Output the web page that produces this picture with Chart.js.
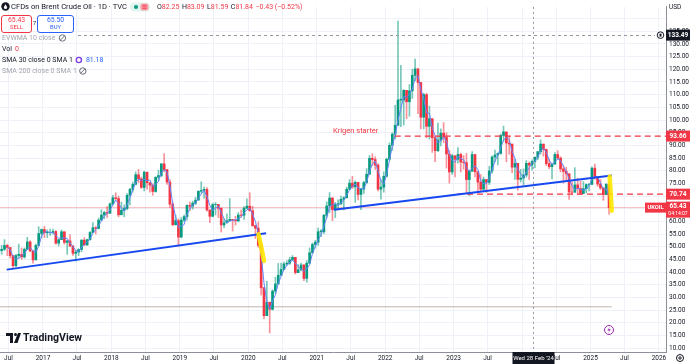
<!DOCTYPE html>
<html>
<head>
<meta charset="utf-8">
<script src="https://cdn.jsdelivr.net/npm/chart.js@4.4.1/dist/chart.umd.min.js"></script>
<style>
  html, body { margin: 0; padding: 0; background: #fff; }
  #wrap { width: 690px; height: 364px; }
</style>
</head>
<body>
<div id="wrap"><canvas id="chart" width="690" height="364"></canvas></div>
<script>
// half-month candles, first one = second half of May 2016
const firstPeriod = 2016.375;
const periodLen = 1 / 24;
const firstOpen = 48.5;

const closes = [
  49, 50.5, 49.7, 46.5, 42.5, 46.5, 47, 46, 49, 51.9, 48.3, 44.8, 50.5, 55.2, 56.8,
  55.5, 55.5, 55.6, 56, 51.4, 52.8, 55.9, 51.7, 52.3, 50.3, 47.4, 47.9, 48.9, 52.6, 50.7, 52.8, 55.6, 57.5, 57.2, 60.5, 62.5, 63.5, 63.2, 66.9,
  69.3, 69, 62.6, 64.4, 65.1, 70.3, 72.6, 74.6, 78.4, 76.8, 73.4, 79.4, 75.3, 74.3, 71.8, 77.4, 78.1, 82.7, 80.4, 75.5, 66.8, 58.7, 60.3, 53.8,
  60.5, 61.9, 66.3, 66, 67.2, 68.4, 71.9, 72.2, 72.6, 64.5, 62, 66.6, 66.7, 65.2, 58.6, 59.4, 60.2, 60.8, 60.5, 60.2, 62.5, 62.4, 65.2, 66,
  64.2, 58.3, 57.3, 50.5, 33.8, 22.8, 28.1, 25.3, 32.5, 35.3, 38.7, 41, 43.2, 43.5, 44.8, 45.8, 39.8, 40.9, 42.8, 37.5, 43.5, 47.6, 50.9, 51.8,
  55.9, 55.9, 62.4, 66.1, 69.2, 64.6, 66.8, 67, 68.7, 69.3, 72.7, 75.1, 73.6, 75.4, 70.6, 72.7, 75.3, 78.6, 84.9, 84.4, 82.2, 72.7, 73.5, 77.8,
  84.5, 90, 94.4, 97.9, 107.9, 107.9, 111.7, 107.2, 111.5, 117.6, 120.2, 114.8, 101.1, 110, 97.5, 100.5, 93, 87.9, 92.1, 94.8, 93.1, 86.6, 79.5, 85.9,
  84.5, 86.4, 83.4, 83.2, 76.5, 79.8, 86.4, 79.6, 75.5, 72.7, 76.5, 75.4, 79.9, 85.4, 86.2, 86.8, 93.9, 95.3, 90.9, 90.5, 81.4, 82.9, 76.6, 77.1,
  78.3, 82.9, 82.2, 83.6, 85.3, 87.5, 90.5, 88.4, 82.8, 81.6, 82.6, 86.4, 85, 80.7, 79.7, 78.8, 71.6, 71.5, 74.4, 73, 71, 72.9, 74.5, 74.6,
  81, 77.4, 74.7, 73.2, 70.6, 74.7, 65.4
];
const highs = [
  50.5, 52.8, 51, 49, 46, 47, 51, 49.5, 49.5, 53.7, 52.3, 48.5, 51, 57.9, 57,
  58, 56.6, 57, 57, 56.4, 53, 56.6, 55.8, 52.5, 54.7, 50.5, 48.5, 49.2, 52.8, 53.6, 53, 56, 59.5, 58, 61.3, 64.6, 64, 65.8, 67.3,
  70.3, 71.3, 70, 67.6, 66.5, 71, 73, 75.5, 79.5, 80.5, 77.5, 79.8, 79.5, 75, 74.8, 77.6, 80.2, 82.8, 86.7, 80.5, 76.5, 67.5, 62.5, 61,
  61.5, 62.5, 66.5, 67.6, 68, 69.5, 72, 75.6, 73.5, 73.3, 63.5, 67.2, 67.5, 65.5, 62.5, 61, 63, 69, 60.8, 62, 63.5, 64.5, 65.8, 68.9,
  71.3, 66, 58.5, 59.8, 52, 34, 36.3, 28, 33, 38, 43.4, 43.5, 43.9, 44.5, 45.8, 46.5, 45.3, 43, 43.5, 43, 44.5, 49.5, 51.5, 52.5,
  57.4, 56.8, 62.8, 67.7, 71.4, 69.5, 67.5, 68.5, 70, 69.8, 73.5, 76.5, 77.8, 76, 73, 73, 75.8, 80.8, 86, 86.7, 85.5, 82.8, 76.5, 79.5,
  85, 91, 95, 105.8, 139, 121.6, 112, 109.5, 114, 120, 124, 118.5, 114, 110.5, 110.5, 105.5, 97, 93.7, 98.8, 96.5, 99, 95, 88, 86.5,
  85, 89.1, 86.9, 86, 86.8, 80.3, 87.5, 84.5, 77, 78.5, 77.5, 76.5, 81.7, 85.9, 88.1, 87, 94.4, 97.6, 91.5, 93.8, 88.5, 84.5, 80.5, 80.5,
  80.7, 84, 83.5, 84.3, 85.5, 87.6, 92.2, 90.5, 88.5, 84.5, 83, 87.1, 87.9, 85.5, 82, 81.3, 78, 75.5, 81.2, 77, 76, 75.7, 74.8, 75,
  81.5, 82.6, 77, 76.5, 72.8, 74.8, 75.3
];
const lows = [
  47, 48.5, 46.5, 45.5, 41.8, 42, 45.5, 45, 45.5, 49.5, 48, 43.5, 45, 51.5, 53.5,
  53.6, 53.6, 54.5, 55, 51, 50.3, 53, 51, 47, 50, 46.6, 44.3, 46.5, 48, 50.5, 50.6, 52.5, 55.5, 55, 57, 60.5, 61, 61.6, 63.5,
  66.5, 68.5, 61.8, 63, 61.8, 64.5, 66.5, 71.5, 74.5, 75.2, 73, 72, 72.7, 71.5, 70.3, 71.5, 76, 77.6, 79.6, 74.6, 65.5, 58.2, 58.5, 50.2,
  53.5, 59.8, 60.5, 64.2, 64.8, 66.6, 68.5, 71.2, 69.2, 64, 59.5, 61.8, 62.5, 61.5, 55.8, 57.5, 60, 60.5, 56.2, 58.5, 59.8, 61.8, 60.8, 65,
  64, 58, 53.2, 49.8, 31, 21.6, 26.5, 15.98, 25, 31.5, 35.5, 39.5, 41.4, 42.6, 43, 44.6, 39.2, 40.2, 40.5, 36.6, 36, 43.5, 48, 49.5,
  50.5, 54, 55.2, 61.5, 63.5, 60.3, 61.5, 64.5, 66.5, 64.5, 70, 72.5, 73, 67.5, 68.5, 64.6, 71, 75, 78.5, 82, 80.5, 72, 68.8, 71.5,
  77.5, 84, 88, 92.5, 98, 97.4, 98, 100.5, 101.5, 108.5, 115.5, 102.5, 96.5, 96.5, 93, 92.5, 87.2, 83.6, 87.5, 89.8, 91, 81, 75.1, 78.5,
  77.5, 83, 79.5, 80.6, 71.4, 70.1, 80, 77.5, 71.3, 72, 71.7, 71.4, 74.5, 79, 83.5, 82.3, 86.5, 91.5, 83.5, 86.5, 79.2, 76.6, 72.3, 75.5,
  74.5, 77.5, 76.5, 80.2, 81.2, 84.3, 86.5, 85.7, 82, 80.8, 76.8, 82.5, 84.5, 79.5, 75.1, 75.8, 68.7, 70.5, 71.5, 70.6, 70.5, 71.3, 71.2, 72,
  75.4, 76.6, 73.8, 72.5, 68.3, 70.5, 62.8
];

// hand drawn lines: [time, price] pairs
const trendLow2016 = [[2016.47, 40.96], [2020.26, 55.3]];
const trendLow2021 = [[2021.25, 64.56], [2025.31, 78.1]];
const highlight2020 = [[2020.15, 54.9], [2020.23, 44.4]];
const highlight2025 = [[2025.28, 77.7], [2025.31, 64.2]];
const warLevel = 93.66;     // "Krigen starter"
const supportLevel = 70.74;
const lastPrice = 65.43;
const oldLevel = 26.3;
const crossTime = 2024.16;
const crossPrice = 133.49;

const xTickValues = [];
for (let yr = 2016; yr <= 2026; yr++) {
  if (yr > 2016) xTickValues.push(yr);
  if (yr < 2026) xTickValues.push(yr + 0.496);
}

const UP = '#089981', DOWN = '#f23645';

const wicks = [], bodies = [], candleColors = [], wickColors = [];
closes.forEach((c, i) => {
  const o = i === 0 ? firstOpen : closes[i - 1];
  const x = firstPeriod + (i + 0.5) * periodLen;
  const hi = Math.max(highs[i], o, c), lo = Math.min(lows[i], o, c);
  wicks.push({ x, y: [lo, hi] });
  bodies.push({ x, y: [Math.min(o, c), Math.max(o, c) + (o === c ? 0.3 : 0)] });
  candleColors.push(c >= o ? UP : DOWN);
  wickColors.push(c >= o ? 'rgba(8,153,129,0.55)' : 'rgba(242,54,69,0.55)');
});

const sma = [];
closes.forEach((c, i) => {
  if (i < 2) return;
  sma.push({ x: firstPeriod + (i + 0.5) * periodLen, y: (closes[i] + closes[i - 1] + closes[i - 2]) / 3 });
});

const pts = arr => arr.map(p => ({ x: p[0], y: p[1] }));
const X_MIN = 2016.372, X_MAX = 2026.103;

function lineSet(data, color, width, dash, order, cap) {
  return { type: 'line', data, borderColor: color, borderWidth: width, borderDash: dash || [],
    pointRadius: 0, tension: 0, order, borderCapStyle: cap || 'butt' };
}

const FONT = 'Roboto, "Noto Sans", sans-serif';

function txt(ctx, s, x, y, size, color, weight, align) {
  ctx.font = (weight || 'normal') + ' ' + size + 'px ' + FONT;
  ctx.fillStyle = color;
  ctx.textAlign = align || 'left';
  ctx.textBaseline = 'middle';
  ctx.fillText(s, x, y);
  return ctx.measureText(s).width;
}

function roundRect(ctx, x, y, w, h, r) {
  ctx.beginPath();
  ctx.moveTo(x + r, y);
  ctx.arcTo(x + w, y, x + w, y + h, r);
  ctx.arcTo(x + w, y + h, x, y + h, r);
  ctx.arcTo(x, y + h, x, y, r);
  ctx.arcTo(x, y, x + w, y, r);
  ctx.closePath();
}

const overlay = {
  id: 'overlay',
  afterDraw(chart) {
    const ctx = chart.ctx, xs = chart.scales.x, ys = chart.scales.y;
    const area = chart.chartArea;
    ctx.save();

    // crosshair
    ctx.strokeStyle = '#9598a1';
    ctx.lineWidth = 1;
    ctx.setLineDash([2, 3]);
    const cx = Math.round(xs.getPixelForValue(crossTime)) + 0.5;
    ctx.beginPath(); ctx.moveTo(cx, area.top); ctx.lineTo(cx, area.bottom); ctx.stroke();
    const cy = Math.round(ys.getPixelForValue(crossPrice)) + 0.5;
    ctx.setLineDash([3, 3]);
    ctx.beginPath(); ctx.moveTo(78, cy); ctx.lineTo(655, cy); ctx.stroke();
    ctx.setLineDash([]);

    // text on chart
    txt(ctx, 'Krigen starter', 333, ys.getPixelForValue(warLevel) - 5, 7.5, '#f23645');

    // header
    ctx.fillStyle = '#131722';
    ctx.beginPath(); ctx.arc(5.5, 6.5, 4.2, 0, Math.PI * 2); ctx.fill();
    ctx.fillStyle = '#fff';
    ctx.beginPath(); ctx.arc(5.5, 7.5, 1.6, 0, Math.PI * 2); ctx.fill();
    ctx.beginPath(); ctx.moveTo(4.1, 7); ctx.lineTo(5.5, 4); ctx.lineTo(6.9, 7); ctx.fill();
    txt(ctx, 'CFDs on Brent Crude Oil · 1D · TVC', 11, 7, 7.6, '#131722');
    ctx.fillStyle = '#e0f3ef';
    roundRect(ctx, 130, 2.5, 20, 9, 4.5); ctx.fill();
    ctx.fillStyle = '#089981';
    ctx.beginPath(); ctx.arc(136, 7, 2, 0, Math.PI * 2); ctx.fill();
    ctx.fillStyle = '#f7a1a8';
    roundRect(ctx, 140.5, 3.5, 8, 7, 2); ctx.fill();
    ctx.fillStyle = '#f23645';
    [5.3, 7, 8.7].forEach(yy => ctx.fillRect(142.5, yy - 0.4, 4, 0.8));

    let ox = 157;
    [['O', '82.25'], ['H', '83.09'], ['L', '81.59'], ['C', '81.84']].forEach(p => {
      ox += txt(ctx, p[0], ox, 7, 7, '#131722');
      ox += txt(ctx, p[1], ox, 7, 7, '#f23645') + 2.5;
    });
    txt(ctx, '−0.43 (−0.52%)', ox, 7, 7, '#f23645');

    // sell / buy
    ctx.fillStyle = '#fff';
    ctx.strokeStyle = '#f23645';
    roundRect(ctx, 1.5, 15.5, 30, 17, 2.5); ctx.fill(); ctx.stroke();
    txt(ctx, '65.43', 16.5, 20.5, 6.8, '#f23645', 'normal', 'center');
    txt(ctx, 'SELL', 16.5, 28, 5.8, '#f23645', 'normal', 'center');
    txt(ctx, '7', 34.5, 23.5, 5.5, '#131722', 'normal', 'center');
    ctx.fillStyle = '#fff';
    ctx.strokeStyle = '#2962ff';
    roundRect(ctx, 37.5, 15.5, 36, 17, 2.5); ctx.fill(); ctx.stroke();
    txt(ctx, '65.50', 55.5, 20.5, 6.8, '#2962ff', 'normal', 'center');
    txt(ctx, 'BUY', 55.5, 28, 5.8, '#2962ff', 'normal', 'center');

    // indicator rows
    const grey = '#a3a6af';
    let w = txt(ctx, 'EVWMA 10 close', 2, 38, 7, grey);
    eyeOff(ctx, 2 + w + 7, 38);
    w = txt(ctx, 'Vol', 2, 49, 7, '#131722');
    txt(ctx, '0', 2 + w + 3, 49, 7, '#f23645');
    w = txt(ctx, 'SMA 30 close 0 SMA 1', 2, 60, 7, '#131722');
    ctx.strokeStyle = '#7b3fe4'; ctx.lineWidth = 1.4;
    ctx.beginPath(); ctx.arc(2 + w + 6, 60, 2.6, 0, Math.PI * 2); ctx.stroke();
    ctx.lineWidth = 1;
    txt(ctx, '81.18', 2 + w + 13, 60, 7, '#2962ff');
    w = txt(ctx, 'SMA 200 close 0 SMA 1', 2, 71, 7, grey);
    eyeOff(ctx, 2 + w + 6, 71);

    // axis corner
    ctx.fillStyle = '#fff';
    ctx.fillRect(667, 0, 23, 16);
    txt(ctx, 'USD', 669, 7, 6.5, '#131722');

    // price tags on right axis
    const tag = (v, text, bg) => {
      const y = ys.getPixelForValue(v);
      ctx.fillStyle = bg;
      ctx.fillRect(666, y - 5.5, 24, 11);
      txt(ctx, text, 678, y, 6.5, '#fff', 'bold', 'center');
    };
    tag(crossPrice, '133.49', '#131722');
    ctx.strokeStyle = '#131722';
    ctx.beginPath(); ctx.arc(660.5, ys.getPixelForValue(crossPrice), 3.3, 0, Math.PI * 2); ctx.stroke();
    ctx.fillStyle = '#131722';
    ctx.fillRect(659.5, ys.getPixelForValue(crossPrice) - 1.5, 2, 3);
    tag(warLevel, '93.66', '#f23645');
    tag(supportLevel, '70.74', '#f23645');
    const ly = ys.getPixelForValue(lastPrice);
    ctx.fillStyle = '#f23645';
    ctx.fillRect(666, ly - 6, 24, 16);
    txt(ctx, '65.43', 678, ly - 1, 6.5, '#fff', 'bold', 'center');
    txt(ctx, '04:14:07', 678, ly + 6, 5, '#fff', 'normal', 'center');
    ctx.fillStyle = '#f23645';
    ctx.fillRect(645, ly - 5, 21, 10);
    txt(ctx, 'UKOIL', 655.5, ly, 5.8, '#fff', 'bold', 'center');

    // crosshair time label
    ctx.fillStyle = '#131722';
    ctx.fillRect(cx - 21, area.bottom, 42, 12);
    txt(ctx, "Wed 28 Feb '24", cx, area.bottom + 6, 6, '#fff', 'normal', 'center');

    // gear in the corner
    ctx.fillStyle = '#fff';
    ctx.fillRect(667, 353, 23, 11);
    ctx.strokeStyle = '#131722';
    ctx.beginPath(); ctx.arc(680, 358, 3.5, 0, Math.PI * 2); ctx.stroke();
    ctx.beginPath(); ctx.arc(680, 358, 1.2, 0, Math.PI * 2); ctx.stroke();

    // lightning marker
    ctx.strokeStyle = '#9c27b0';
    ctx.beginPath(); ctx.arc(609, 330, 4.5, 0, Math.PI * 2); ctx.stroke();
    ctx.fillStyle = '#9c27b0';
    ctx.beginPath(); ctx.moveTo(610, 326.5); ctx.lineTo(607.3, 330.5); ctx.lineTo(609.3, 330.5);
    ctx.lineTo(608, 333.5); ctx.lineTo(610.8, 329.3); ctx.lineTo(608.8, 329.3); ctx.closePath(); ctx.fill();

    // TradingView logo
    ctx.fillStyle = '#131722';
    ctx.fillRect(6, 333, 7, 3);
    ctx.fillRect(10, 333, 3, 10);
    ctx.beginPath(); ctx.arc(15.5, 334.5, 1.5, 0, Math.PI * 2); ctx.fill();
    ctx.beginPath(); ctx.moveTo(14, 343); ctx.lineTo(18, 333); ctx.lineTo(21, 333); ctx.lineTo(17.5, 343); ctx.closePath(); ctx.fill();
    txt(ctx, 'TradingView', 23, 338.5, 10.5, '#131722', 'bold');

    ctx.restore();
  }
};

function eyeOff(ctx, x, y) {
  ctx.save();
  ctx.strokeStyle = '#6a6d78';
  ctx.lineWidth = 1;
  ctx.beginPath(); ctx.arc(x, y, 3.2, 0, Math.PI * 2); ctx.stroke();
  ctx.beginPath(); ctx.moveTo(x - 2.2, y + 2.2); ctx.lineTo(x + 2.2, y - 2.2); ctx.stroke();
  ctx.restore();
}

new Chart(document.getElementById('chart'), {
  type: 'bar',
  data: {
    datasets: [
      { type: 'bar', data: wicks, backgroundColor: wickColors, barThickness: 1, grouped: false, order: 6 },
      { type: 'bar', data: bodies, backgroundColor: candleColors, barThickness: 2, grouped: false, order: 5 },
      lineSet(sma, '#6683f7', 1, null, 4),
      lineSet(pts([[X_MIN, lastPrice], [X_MAX, lastPrice]]), 'rgba(242,54,69,0.35)', 1, null, 7),
      lineSet(pts([[X_MIN, oldLevel], [2025.31, oldLevel]]), 'rgba(170,150,140,0.7)', 1, null, 7),
      lineSet(pts([[2022.14, warLevel], [X_MAX, warLevel]]), '#f23645', 1.3, [6, 4], 3),
      lineSet(pts([[2023.05, supportLevel], [X_MAX, supportLevel]]), '#f23645', 1.3, [6, 4], 3),
      lineSet(pts(trendLow2016), '#1848f0', 2, null, 2),
      lineSet(pts(trendLow2021), '#1848f0', 2, null, 2),
      lineSet(pts(highlight2020), 'rgba(255,232,0,0.9)', 4.5, null, 1, 'round'),
      lineSet(pts(highlight2025), 'rgba(255,232,0,0.9)', 4.5, null, 1, 'round')
    ]
  },
  options: {
    responsive: false,
    animation: false,
    devicePixelRatio: 1,
    layout: { padding: 0 },
    plugins: { legend: { display: false }, tooltip: { enabled: false } },
    scales: {
      x: {
        type: 'linear',
        min: X_MIN,
        max: X_MAX,
        offset: false,
        afterFit: s => { s.height = 12; },
        afterBuildTicks: s => { s.ticks = xTickValues.map(v => ({ value: v })); },
        grid: { color: '#eef2f8', drawTicks: false, offset: false },
        border: { color: '#8d909a' },
        ticks: {
          autoSkip: false, maxRotation: 0, padding: 2,
          color: '#131722', font: { size: 6.5, family: FONT },
          callback: v => Number.isInteger(v) ? String(v) : 'Jul'
        }
      },
      y: {
        position: 'right',
        min: 8.46,
        max: 144.63,
        afterFit: s => { s.width = 24; },
        grid: { color: '#eef2f8', drawTicks: false },
        border: { color: '#8d909a' },
        ticks: {
          stepSize: 5, includeBounds: false, padding: 3,
          color: '#131722', font: { size: 6.5, family: FONT },
          callback: v => v > 137 ? '' : v.toFixed(2)
        }
      }
    }
  },
  plugins: [overlay]
});
</script>
</body>
</html>
